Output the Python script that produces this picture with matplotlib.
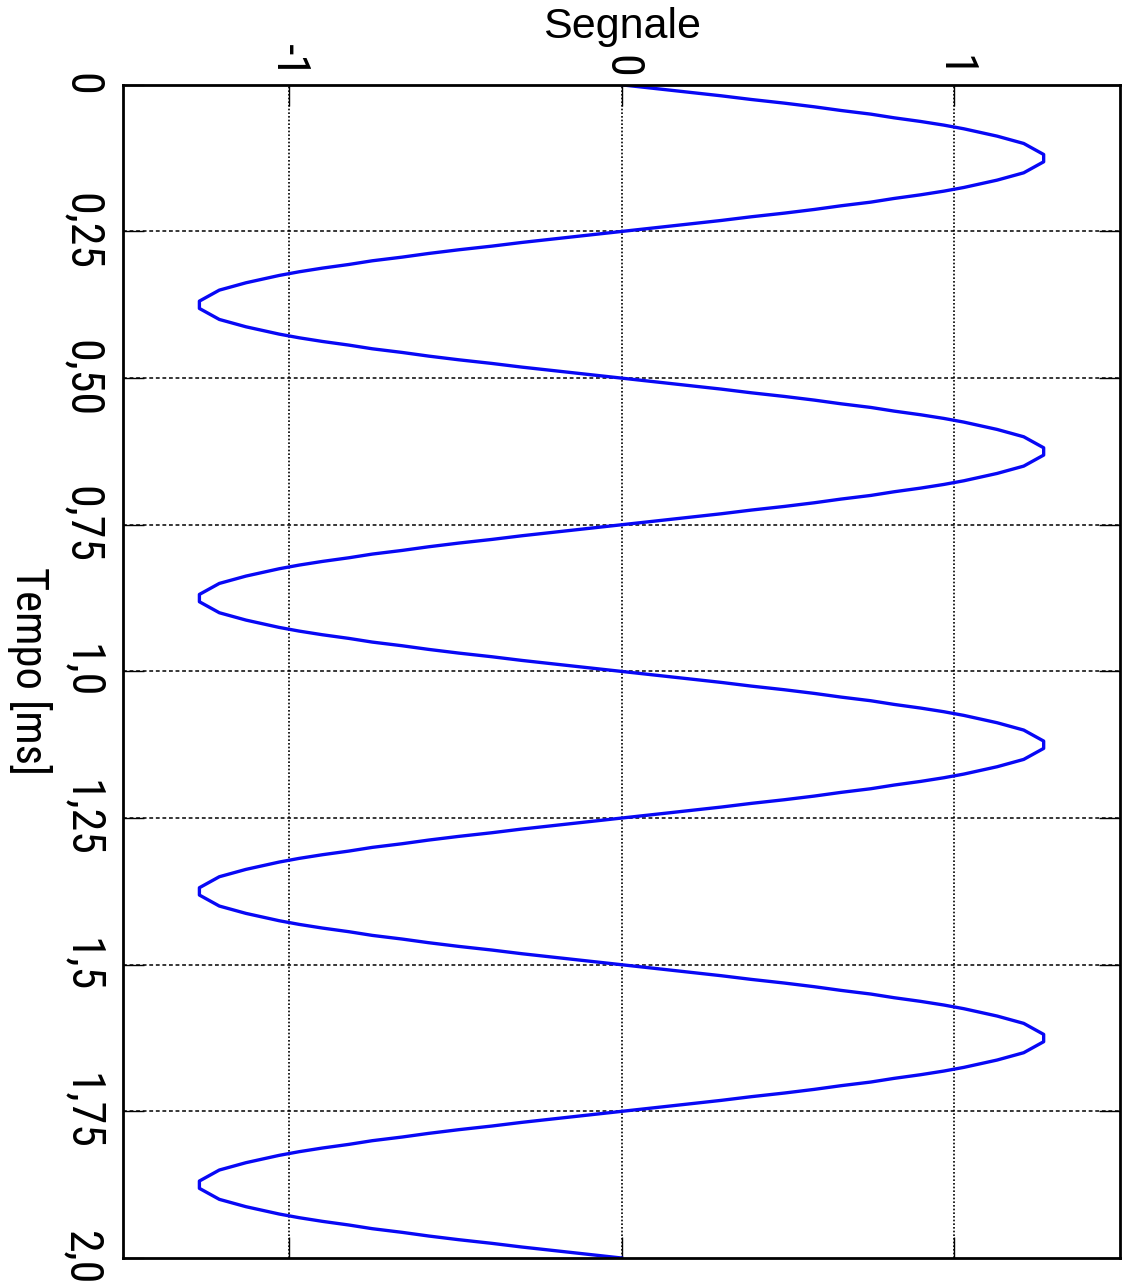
import numpy as np
import matplotlib
matplotlib.use("Agg")
import matplotlib.pyplot as plt
from matplotlib import font_manager

# tempo [ms], campionato ogni 0.00625 ms
tempo = np.linspace(0.0, 2.0, 321)

# un periodo del segnale (0 .. 0.49375 ms)
periodo = [
    0.00, 0.10, 0.20, 0.30, 0.39, 0.49, 0.58, 0.66, 0.75, 0.82,
    0.90, 0.97, 1.03, 1.08, 1.13, 1.17, 1.21, 1.23, 1.25, 1.27,
    1.27, 1.27, 1.25, 1.23, 1.21, 1.17, 1.13, 1.08, 1.03, 0.97,
    0.90, 0.82, 0.75, 0.66, 0.58, 0.49, 0.39, 0.30, 0.20, 0.10,
    0.00, -0.10, -0.20, -0.30, -0.39, -0.49, -0.58, -0.66, -0.75, -0.82,
    -0.90, -0.97, -1.03, -1.08, -1.13, -1.17, -1.21, -1.23, -1.25, -1.27,
    -1.27, -1.27, -1.25, -1.23, -1.21, -1.17, -1.13, -1.08, -1.03, -0.97,
    -0.90, -0.82, -0.75, -0.66, -0.58, -0.49, -0.39, -0.30, -0.20, -0.10,
]
segnale = periodo * 4 + [0.00]

tempo_ticks = [0, 0.25, 0.5, 0.75, 1.0, 1.25, 1.5, 1.75, 2.0]
tempo_labels = ["0", "0,25", "0,50", "0,75", "1,0", "1,25", "1,5", "1,75", "2,0"]
segnale_ticks = [-1, 0, 1]
segnale_labels = ["-1", "0", "1"]


def font_stretto():
    # cerca un carattere condensato tra quelli installati
    fams = ("Liberation Sans Narrow", "Roboto Condensed", "Open Sans Condensed",
            "Noto Sans Condensed", "DejaVu Sans Condensed", "Liberation Sans",
            "Noto Sans", "Open Sans", "Roboto", "DejaVu Sans")
    best = None
    for f in font_manager.fontManager.ttflist:
        if f.name not in fams or f.style != "normal":
            continue
        if f.weight not in (400, "normal", "regular", "book"):
            continue
        narrow = ("Narrow" in f.name or "Condensed" in f.name
                  or f.stretch in ("condensed", "semi-condensed", 375, 75, 87.5))
        if narrow and "Extra" not in str(f.fname) and "Semi" not in str(f.fname):
            if best is None or fams.index(f.name) < fams.index(best.name):
                best = f
    if best is not None:
        return font_manager.FontProperties(fname=best.fname)
    return font_manager.FontProperties(family="Liberation Sans")


fp = font_stretto()

fig = plt.figure(figsize=(11.28, 12.85), dpi=100)
ax = fig.add_axes([0.109, 0.021, 0.884, 0.913])

ax.plot(segnale, tempo, color="#0808f5", lw=2.4)

ax.set_xlim(-1.5, 1.5)
ax.set_ylim(2.0, 0.0)

# griglia: verticali a puntini, orizzontali tratteggiate
for x in segnale_ticks:
    ax.axvline(x, color="black", lw=1.2, ls=(0, (1, 1.2)), zorder=0)
for y in tempo_ticks[1:-1]:
    ax.axhline(y, color="black", lw=1.1, ls=(0, (2.5, 1.8)), zorder=0)

ax.xaxis.tick_top()
ax.xaxis.set_label_position("top")
ax.set_xticks(segnale_ticks)
ax.set_xticklabels(segnale_labels, rotation=-90, fontproperties=fp)
ax.set_yticks(tempo_ticks)
ax.set_yticklabels(tempo_labels, rotation=-90, fontproperties=fp, va="center")
for lab in ax.get_xticklabels() + ax.get_yticklabels():
    lab.set_fontsize(33)
ax.tick_params(axis="both", direction="in", length=15, width=1.0,
               top=True, bottom=True, left=True, right=True)
ax.tick_params(axis="y", pad=14)
ax.tick_params(axis="x", pad=5)

for s in ax.spines.values():
    s.set_linewidth(2.0)

ax.set_xlabel("Segnale", fontsize=31, family="Liberation Sans", labelpad=4)
ax.set_ylabel("Tempo [ms]", rotation=-90, fontproperties=fp, va="center")
ax.yaxis.label.set_fontsize(32)
ax.yaxis.set_label_coords(-0.094, 0.5)

fig.savefig("out.png", dpi=100)
